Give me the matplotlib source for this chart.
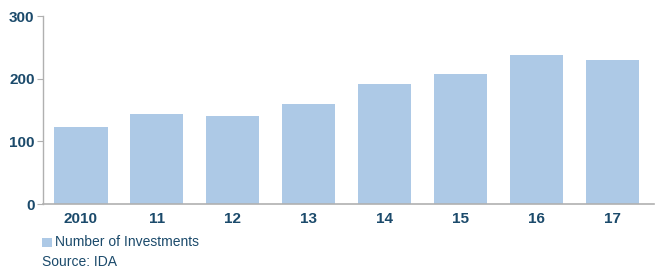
import matplotlib.pyplot as plt
from matplotlib.patches import Rectangle

years = ["2010", "11", "12", "13", "14", "15", "16", "17"]
investments = [123, 144, 140, 160, 191, 207, 238, 230]
yticks = [0, 100, 200, 300]

bar_color = "#adc9e6"
text_color = "#1b4a6b"
axis_color = "#b0b0b0"

plt.rcParams['font.family'] = ['Liberation Sans', 'DejaVu Sans']

fig = plt.figure(figsize=(6.57, 2.68), dpi=100)
ax = fig.add_axes([43 / 657, 64 / 268, 611 / 657, 188 / 268])

x = range(len(years))
ax.bar(x, investments, width=0.7, color=bar_color)

ax.set_xlim(-0.5, 7.55)
ax.set_ylim(0, 300)
ax.set_yticks(yticks)
ax.set_xticks(list(x))
ax.set_xticklabels(years)

for side in ["top", "right"]:
    ax.spines[side].set_visible(False)
ax.spines["left"].set_color(axis_color)
ax.spines["bottom"].set_color(axis_color)
ax.spines["left"].set_linewidth(1.0)
ax.spines["bottom"].set_linewidth(1.2)

ax.tick_params(axis="y", length=4, color=axis_color, pad=2,
               labelsize=11, labelcolor=text_color)
ax.tick_params(axis="x", length=0, pad=6, labelsize=11, labelcolor=text_color)
for lbl in ax.get_xticklabels() + ax.get_yticklabels():
    lbl.set_fontweight("bold")

# legend + source
W, H = 657, 268
fig.patches.append(Rectangle((42 / W, 1 - 247 / H), 10 / W, 9 / H,
                             transform=fig.transFigure, facecolor=bar_color,
                             edgecolor="none"))
fig.text(55 / W, 1 - 246.5 / H, "Number of Investments", fontsize=10,
         color=text_color, va="baseline")
fig.text(42 / W, 1 - 266 / H, "Source: IDA", fontsize=10,
         color=text_color, va="baseline")

fig.savefig("out.png", dpi=100)
